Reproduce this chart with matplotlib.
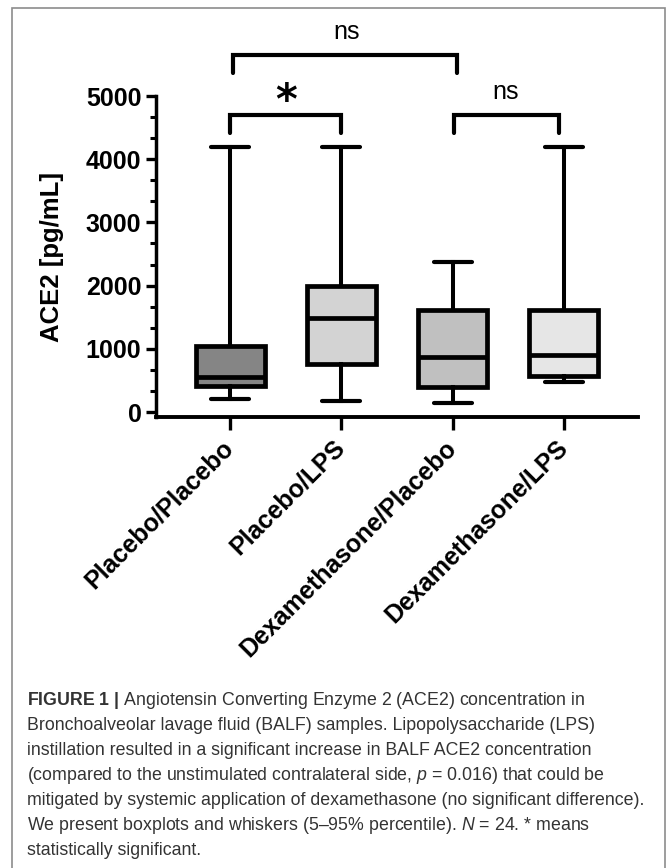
import numpy as np
import matplotlib
matplotlib.use('Agg')
import matplotlib.pyplot as plt
from matplotlib.patches import Rectangle
from matplotlib.ticker import MultipleLocator

# box statistics (pg/mL)
groups = ['Placebo/Placebo', 'Placebo/LPS', 'Dexamethasone/Placebo', 'Dexamethasone/LPS']
whis_lo = [206, 179, 147, 475]
q1 = [416, 759, 400, 570]
median = [559, 1490, 865, 902]
q3 = [1044, 2000, 1614, 1614]
whis_hi = [4200, 4200, 2378, 4200]
box_colors = ['#858585', '#d3d3d3', '#c0c0c0', '#e6e6e6']

# significance brackets
bracket_pairs = [(0.0, 1.0), (2.01, 2.96), (0.03, 2.04)]
bracket_y = [4700, 4700, 5650]
bracket_labels = ['*', 'ns', 'ns']
label_x = [0.5, 2.48, 1.05]
label_y = [4900, 5063, 6013]

caption = [
    r'$\mathbf{FIGURE\ 1\ |}$ Angiotensin Converting Enzyme 2 (ACE2) concentration in',
    'Bronchoalveolar lavage fluid (BALF) samples. Lipopolysaccharide (LPS)',
    'instillation resulted in a significant increase in BALF ACE2 concentration',
    r'(compared to the unstimulated contralateral side, $p$ = 0.016) that could be',
    'mitigated by systemic application of dexamethasone (no significant difference).',
    r'We present boxplots and whiskers (5–95% percentile). $N$ = 24. * means',
    'statistically significant.',
]

plt.rcParams['font.family'] = ['Liberation Sans', 'DejaVu Sans']
plt.rcParams['mathtext.fontset'] = 'custom'
plt.rcParams['mathtext.rm'] = 'Liberation Sans'
plt.rcParams['mathtext.it'] = 'Liberation Sans:italic'
plt.rcParams['mathtext.bf'] = 'Liberation Sans:bold'

W, H = 667, 868
fig = plt.figure(figsize=(W / 100, H / 100), dpi=100)
ax = fig.add_axes([156 / W, 1 - 417 / H, (638 - 156) / W, (417 - 96) / H])

stats = []
for i in range(len(groups)):
    stats.append(dict(whislo=whis_lo[i], q1=q1[i], med=median[i], q3=q3[i],
                      whishi=whis_hi[i], fliers=[], label=groups[i]))

bp = ax.bxp(stats, positions=range(len(groups)), widths=0.62, capwidths=0.34,
            patch_artist=True, showfliers=False,
            boxprops=dict(linewidth=3.4, edgecolor='black'),
            whiskerprops=dict(linewidth=2.9, color='black'),
            capprops=dict(linewidth=3.0, color='black', solid_capstyle='round'),
            medianprops=dict(linewidth=3.4, color='black', solid_capstyle='butt'))
for patch, c in zip(bp['boxes'], box_colors):
    patch.set_facecolor(c)

ax.set_xlim(-0.665, 3.666)
ax.set_ylim(-79, 5000)
ax.spines['top'].set_visible(False)
ax.spines['right'].set_visible(False)
ax.spines['left'].set_linewidth(2.5)
ax.spines['bottom'].set_linewidth(2.8)

ax.yaxis.set_major_locator(MultipleLocator(1000))
ax.yaxis.set_minor_locator(MultipleLocator(1000 / 3))
ax.tick_params(axis='y', which='major', length=7.5, width=2.4, labelsize=18, pad=3)
ax.tick_params(axis='y', which='minor', length=4.5, width=2.2)
ax.tick_params(axis='x', which='major', length=9.5, width=2.4, pad=10)
for lbl in ax.get_yticklabels():
    lbl.set_fontweight('bold')

ax.set_xticks(range(len(groups)))
ax.set_xticklabels(groups, rotation=45, ha='right', va='center', rotation_mode='anchor',
                   fontsize=18, fontweight='bold')

ax.text(-0.216, 0.5, 'ACE2 [pg/mL]', transform=ax.transAxes, rotation=90,
        ha='center', va='center', fontsize=18.5, fontweight='bold')

for (x1, x2), y, lab, lx, ly in zip(bracket_pairs, bracket_y, bracket_labels, label_x, label_y):
    ax.plot([x1, x1, x2, x2], [y - 280, y, y, y - 280], color='black', lw=3,
            clip_on=False, solid_capstyle='round', solid_joinstyle='miter')
    if lab == '*':
        ax.text(lx, ly, lab, ha='center', va='center', fontsize=30, fontweight='bold',
                family='DejaVu Sans', clip_on=False)
    else:
        ax.text(lx, ly, lab, ha='center', va='center', fontsize=18, clip_on=False)

for i, line in enumerate(caption):
    fig.text(27 / W, 1 - (705 + 25 * i) / H, line, fontsize=12.8, ha='left',
             va='baseline', color='#333333')

fig.patches.append(Rectangle((12 / W, -0.02), (665 - 12) / W, 1 - 8 / H + 0.02,
                             transform=fig.transFigure, fill=False,
                             edgecolor='#8c8c8c', linewidth=1.2))

fig.savefig('out.png', dpi=100)
